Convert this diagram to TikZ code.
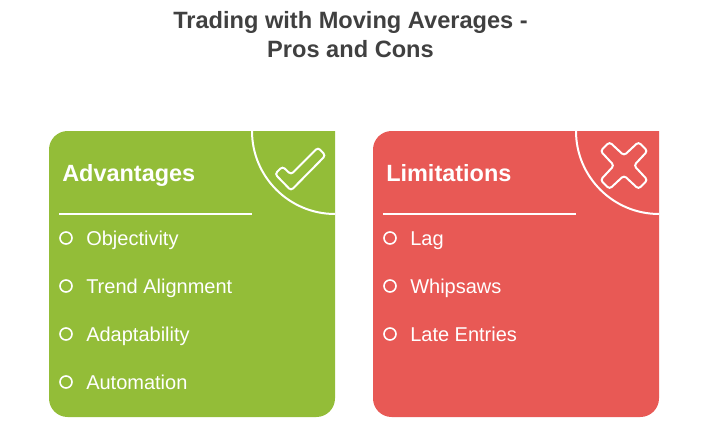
\documentclass[tikz,border=0pt]{standalone}
\usepackage{fontspec}
\setmainfont{Liberation Sans}
\definecolor{cardgreen}{RGB}{147,189,56}
\definecolor{cardred}{RGB}{232,89,85}
\definecolor{titlegray}{RGB}{64,64,64}
\tikzset{
  title/.style = {text = titlegray, font = \bfseries\fontsize{17.7pt}{21.75pt}\selectfont, align = center},
  head/.style = {anchor = base west, inner sep = 0, text = white, font = \bfseries\fontsize{17.6pt}{21pt}\selectfont},
  item/.style = {anchor = base west, inner sep = 0, text = white, font = \fontsize{15pt}{18pt}\selectfont},
  bullet/.style = {circle, draw = white, line width = 1.2pt, minimum size = 9pt, inner sep = 0},
  rule/.style = {draw = white, line width = 1.5pt}
}

\begin{document}
\begin{tikzpicture}[x = 0.75pt, y = -0.75pt]
\useasboundingbox (0, 0) rectangle (708, 433);

\node[title] (heading) at (350.5, 35) {Trading with Moving Averages -\\Pros and Cons};

% green card
\fill[cardgreen, rounded corners = 14pt] (49, 131) -- (49, 417) -- (335, 417) -- (335, 300) [sharp corners] -- (335, 131) -- (100, 131) [rounded corners = 14pt] -- cycle;
\coordinate (arcA) at (252, 131);
\coordinate (arcB) at (335, 214);
\draw[rule] (arcA) arc (180:90:83);
\coordinate (ruleA) at (59, 214);
\coordinate (ruleB) at (252, 214);
\draw[rule] (ruleA) -- (ruleB);
\draw[rule, rounded corners = 2.2pt] (318, 147.5) -- (325.5, 155.5) -- (291, 190.5) -- (275, 174) -- (282.5, 166.5) -- (291, 174.5) -- cycle;
\node[head] (adv) at (62, 181) {Advantages};
\node[bullet] (b1) at (66, 238) {};
\node[bullet] (b2) at (66, 286) {};
\node[bullet] (b3) at (66, 334) {};
\node[bullet] (b4) at (66, 382) {};
\node[item] (objectivity) at (86, 245) {Objectivity};
\node[item] (trend) at (86, 293) {Trend Alignment};
\node[item] (adapt) at (86, 341) {Adaptability};
\node[item] (auto) at (86, 389) {Automation};

% red card
\fill[cardred, rounded corners = 14pt] (373, 131) -- (373, 417) -- (659, 417) -- (659, 300) [sharp corners] -- (659, 131) -- (424, 131) [rounded corners = 14pt] -- cycle;
\coordinate (arcC) at (576, 131);
\coordinate (arcD) at (659, 214);
\draw[rule] (arcC) arc (180:90:83);
\coordinate (ruleC) at (383, 214);
\coordinate (ruleD) at (576, 214);
\draw[rule] (ruleC) -- (ruleD);
\draw[rule, rounded corners = 2.2pt, shift = {(624, 165.5)}] (0, -10) -- (14.5, -23.5) -- (23.5, -14.5) -- (10, 0) -- (23.5, 14.5) -- (14.5, 23.5) -- (0, 10) -- (-14.5, 23.5) -- (-23.5, 14.5) -- (-10, 0) -- (-23.5, -14.5) -- (-14.5, -23.5) -- cycle;
\node[head] (lim) at (386, 181) {Limitations};
\node[bullet] (c1) at (390, 238) {};
\node[bullet] (c2) at (390, 286) {};
\node[bullet] (c3) at (390, 334) {};
\node[item] (lag) at (410, 245) {Lag};
\node[item] (whip) at (410, 293) {Whipsaws};
\node[item] (late) at (410, 341) {Late Entries};
\end{tikzpicture}
\end{document}
